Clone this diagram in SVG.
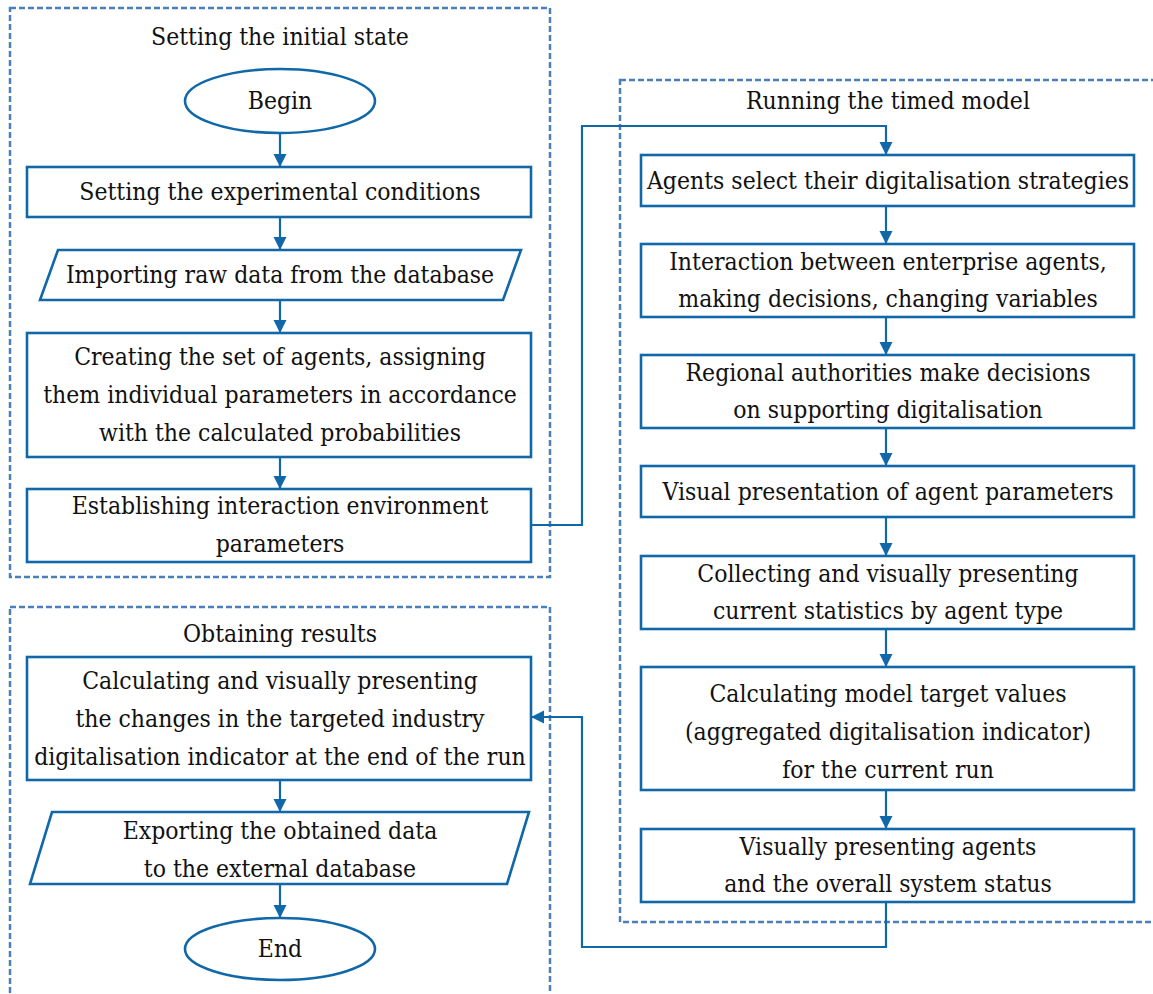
<svg xmlns="http://www.w3.org/2000/svg" width="1153" height="994" viewBox="0 0 1153 994">
<style>
.frame{fill:none;stroke:#4a7fba;stroke-width:2.5;stroke-dasharray:6 3}
.box{fill:#fff;stroke:#1068a8;stroke-width:2.6}
.conn{fill:none;stroke:#1068a8;stroke-width:2.2}
text{font-family:"DejaVu Serif Condensed","DejaVu Serif",serif;font-stretch:condensed;font-size:24.5px;fill:#111;text-anchor:middle}
</style>
<defs>
<marker id="ah" markerUnits="userSpaceOnUse" markerWidth="14" markerHeight="14" refX="13" refY="6.5" orient="auto" viewBox="0 0 14 13">
<path d="M0,0 L13,6.5 L0,13 z" fill="#1068a8"/>
</marker>
</defs>
<g id="frames">
<rect class="frame" x="10" y="8" width="540" height="569"/>
<rect class="frame" x="620" y="80" width="560" height="842"/>
<rect class="frame" x="10" y="607" width="540" height="400"/>
<text x="280" y="45">Setting the initial state</text>
<text x="888" y="109">Running the timed model</text>
<text x="280" y="642">Obtaining results</text>
</g>
<g id="connectors">
<line class="conn" x1="280" y1="133" x2="280" y2="167" marker-end="url(#ah)"/>
<line class="conn" x1="280" y1="217" x2="280" y2="250" marker-end="url(#ah)"/>
<line class="conn" x1="280" y1="300" x2="280" y2="333" marker-end="url(#ah)"/>
<line class="conn" x1="280" y1="457" x2="280" y2="489" marker-end="url(#ah)"/>
<polyline class="conn" points="531,525 582,525 582,126 886,126 886,155" marker-end="url(#ah)"/>
<line class="conn" x1="886" y1="206" x2="886" y2="244" marker-end="url(#ah)"/>
<line class="conn" x1="886" y1="317" x2="886" y2="355" marker-end="url(#ah)"/>
<line class="conn" x1="886" y1="428" x2="886" y2="466" marker-end="url(#ah)"/>
<line class="conn" x1="886" y1="517" x2="886" y2="556" marker-end="url(#ah)"/>
<line class="conn" x1="886" y1="629" x2="886" y2="667" marker-end="url(#ah)"/>
<line class="conn" x1="886" y1="790" x2="886" y2="829" marker-end="url(#ah)"/>
<polyline class="conn" points="886,902 886,947 582,947 582,717 531,717" marker-end="url(#ah)"/>
<line class="conn" x1="280" y1="780" x2="280" y2="812" marker-end="url(#ah)"/>
<line class="conn" x1="280" y1="884" x2="280" y2="918" marker-end="url(#ah)"/>
</g>
<g id="begin">
<ellipse class="box" cx="280" cy="101" rx="95" ry="32"/>
<text x="280" y="109">Begin</text>
</g>
<g id="experimental-conditions">
<rect class="box" x="27" y="167" width="504" height="50"/>
<text x="280" y="200">Setting the experimental conditions</text>
</g>
<g id="import-data">
<polygon class="box" points="58,250 521,250 503,300 40,300"/>
<text x="280" y="283">Importing raw data from the database</text>
</g>
<g id="create-agents">
<rect class="box" x="27" y="333" width="504" height="124"/>
<text x="280" y="365">Creating the set of agents, assigning</text>
<text x="280" y="403">them individual parameters in accordance</text>
<text x="280" y="441">with the calculated probabilities</text>
</g>
<g id="environment">
<rect class="box" x="27" y="489" width="504" height="73"/>
<text x="280" y="514">Establishing interaction environment</text>
<text x="280" y="552">parameters</text>
</g>
<g id="select-strategies">
<rect class="box" x="641" y="155" width="493" height="51"/>
<text x="888" y="189">Agents select their digitalisation strategies</text>
</g>
<g id="interaction">
<rect class="box" x="641" y="244" width="493" height="73"/>
<text x="888" y="270">Interaction between enterprise agents,</text>
<text x="888" y="307">making decisions, changing variables</text>
</g>
<g id="regional">
<rect class="box" x="641" y="355" width="493" height="73"/>
<text x="888" y="381">Regional authorities make decisions</text>
<text x="888" y="418">on supporting digitalisation</text>
</g>
<g id="visual-params">
<rect class="box" x="641" y="466" width="493" height="51"/>
<text x="888" y="500">Visual presentation of agent parameters</text>
</g>
<g id="statistics">
<rect class="box" x="641" y="556" width="493" height="73"/>
<text x="888" y="582">Collecting and visually presenting</text>
<text x="888" y="619">current statistics by agent type</text>
</g>
<g id="target-values">
<rect class="box" x="641" y="667" width="493" height="123"/>
<text x="888" y="702">Calculating model target values</text>
<text x="888" y="740">(aggregated digitalisation indicator)</text>
<text x="888" y="778">for the current run</text>
</g>
<g id="system-status">
<rect class="box" x="641" y="829" width="493" height="73"/>
<text x="888" y="855">Visually presenting agents</text>
<text x="888" y="892">and the overall system status</text>
</g>
<g id="results">
<rect class="box" x="27" y="657" width="504" height="123"/>
<text x="280" y="689">Calculating and visually presenting</text>
<text x="280" y="727">the changes in the targeted industry</text>
<text x="280" y="765">digitalisation indicator at the end of the run</text>
</g>
<g id="export">
<polygon class="box" points="52,812 529,812 507,884 30,884"/>
<text x="280" y="839">Exporting the obtained data</text>
<text x="280" y="877">to the external database</text>
</g>
<g id="end">
<ellipse class="box" cx="280" cy="949" rx="95" ry="31"/>
<text x="280" y="957">End</text>
</g>
</svg>
